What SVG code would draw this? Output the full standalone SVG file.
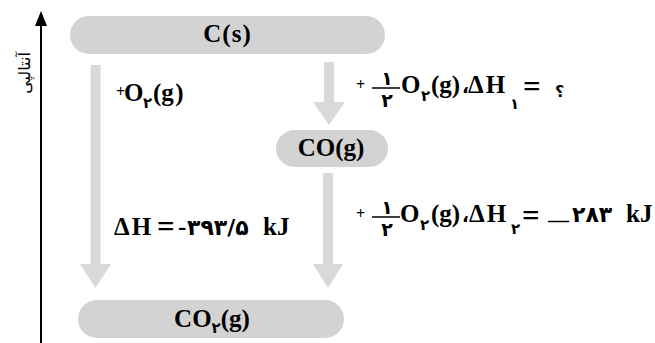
<svg xmlns="http://www.w3.org/2000/svg" width="655" height="343" viewBox="0 0 655 343">
<style>
.pill{fill:#d3d3d3}
.arr{fill:#d9d9d9}
.m{font-family:"Liberation Serif","Times New Roman",Times,serif;font-size:25px;font-weight:bold;fill:#000}
.fa{font-family:"DejaVu Sans",sans-serif;font-weight:bold}
.sub{font-size:15px;font-family:"DejaVu Sans",sans-serif;font-weight:bold}
.plus{font-family:"Liberation Serif",serif;font-size:16px;font-weight:bold}
.eq{font-size:31px}
.frac{font-family:"DejaVu Sans",sans-serif;font-size:19px;font-weight:bold}
.bar{stroke:#000;stroke-width:1.5}
</style>
<rect width="655" height="343" fill="#fff"/>
<g id="axis">
<line x1="41" y1="24" x2="41" y2="343" stroke="#000" stroke-width="2"/>
<polygon points="41,11 35,26 47,26"/>
<text transform="translate(30,73) rotate(-90)" text-anchor="middle" font-family="DejaVu Sans, sans-serif" font-size="16">آنتالپی</text>
</g>
<g id="connectors">
<path class="arr" d="M90.5,65 H100.5 V264 H111 L95.5,288 L80,264 H90.5 Z"/>
<path class="arr" d="M324,62 H334 V102 H345 L329,125 L313,102 H324 Z"/>
<path class="arr" d="M323,173 H333 V264 H343 L328,288 L313,264 H323 Z"/>
</g>
<g id="node-cs">
<rect class="pill" x="70" y="16" width="315" height="38" rx="19"/>
<text x="227.5" y="42" text-anchor="middle" class="m" letter-spacing="1">C(s)</text>
</g>
<g id="node-co">
<rect class="pill" x="276" y="130" width="112" height="37" rx="18.5"/>
<text x="331" y="156" text-anchor="middle" class="m">CO(g)</text>
</g>
<g id="node-co2">
<rect class="pill" x="78" y="300" width="266" height="38" rx="19"/>
<text x="212" y="327" text-anchor="middle" class="m">CO<tspan class="sub" dy="6">۲</tspan><tspan dy="-6">(g)</tspan></text>
</g>
<g id="labels">
<text class="plus" x="116" y="97">+</text>
<text class="m" y="101"><tspan x="124">O</tspan><tspan class="sub" x="143" y="108">۲</tspan><tspan x="153" y="101" letter-spacing="1.5">(g)</tspan></text>

<text class="m" y="235"><tspan x="114" letter-spacing="2">ΔH</tspan><tspan class="eq" x="157" y="237">=</tspan><tspan x="178" y="235">-</tspan><tspan class="fa" font-size="22" x="187" letter-spacing="3">۳۹۳/۵</tspan><tspan x="263">kJ</tspan></text>

<text x="356" y="90" class="plus">+</text>
<text x="387" y="85" text-anchor="middle" class="frac">۱</text>
<line class="bar" x1="372" y1="88" x2="400" y2="88"/>
<text x="387" y="107" text-anchor="middle" class="frac">۲</text>
<text class="m" y="93"><tspan x="401">O</tspan><tspan class="sub" x="421" y="101">۲</tspan><tspan x="431" y="93">(g)</tspan><tspan class="fa" font-size="18" x="462">،</tspan><tspan x="468" letter-spacing="2">ΔH</tspan><tspan class="sub" x="510" y="109">۱</tspan><tspan class="eq" x="523" y="97">=</tspan></text>
<text x="555" y="97" class="fa" font-size="16">؟</text>

<text x="356" y="219" class="plus">+</text>
<text x="387" y="214" text-anchor="middle" class="frac">۱</text>
<line class="bar" x1="372" y1="217" x2="400" y2="217"/>
<text x="387" y="236" text-anchor="middle" class="frac">۲</text>
<text class="m" y="222"><tspan x="400">O</tspan><tspan class="sub" x="420" y="230">۲</tspan><tspan x="431" y="222">(g)</tspan><tspan class="fa" font-size="18" x="462">،</tspan><tspan x="469" letter-spacing="2">ΔH</tspan><tspan class="sub" x="511" y="234">۲</tspan><tspan class="eq" x="522" y="226">=</tspan><tspan x="548" y="227" font-size="21">—</tspan><tspan class="fa" font-size="22" x="572" y="222" letter-spacing="6">۲۸۳</tspan><tspan x="626">kJ</tspan></text>
</g>
</svg>
